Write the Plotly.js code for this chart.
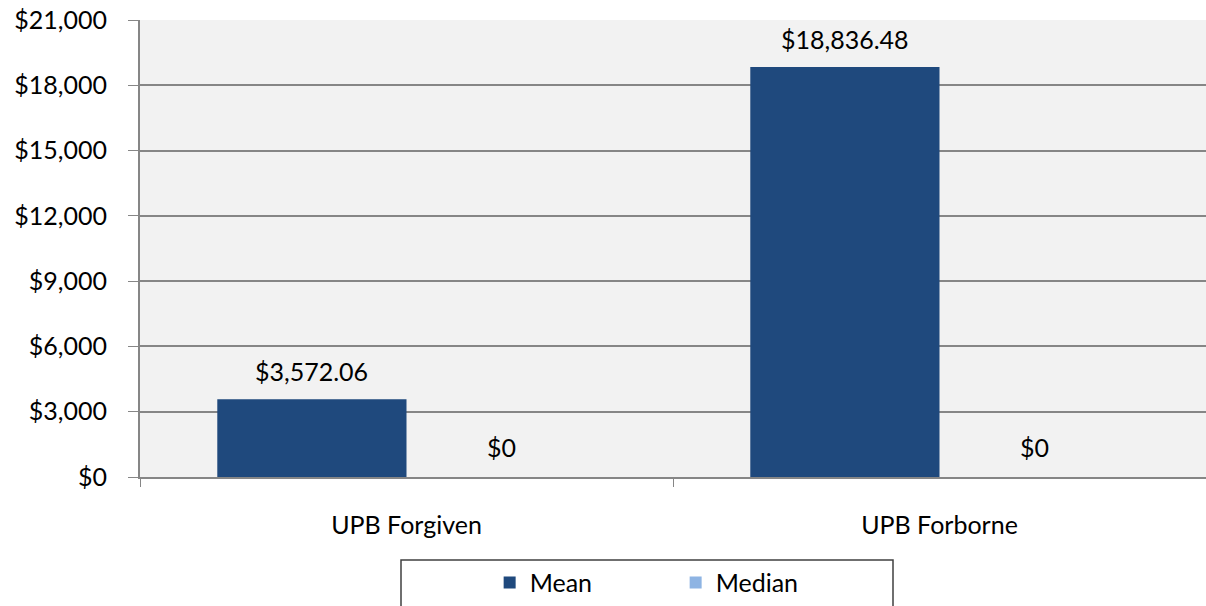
<!DOCTYPE html>
<html>
<head>
<meta charset="utf-8">
<script src="https://cdn.plot.ly/plotly-3.0.1.min.js"></script>
<style>
  body { margin: 0; background: #fff; }
  #chart { width: 1206px; height: 606px; }
</style>
</head>
<body>
<div id="chart"></div>
<script>
// categories and series values
var categories = ["UPB Forgiven", "UPB Forborne"];
var meanValues = [3572.06, 18836.48];
var medianValues = [0, 0];
var yTicks = [0, 3000, 6000, 9000, 12000, 15000, 18000, 21000];
var yTickLabels = yTicks.map(v => "$" + v.toLocaleString("en-US"));

var fontFamily = "Lato, 'Open Sans', sans-serif";
var fontSize = 25;

var trace1 = {
  x: categories,
  y: meanValues,
  name: "Mean",
  type: "bar",
  marker: { color: "#1F497D" },
  hoverinfo: "skip"
};

var trace2 = {
  x: categories,
  y: medianValues,
  name: "Median",
  type: "bar",
  marker: { color: "#8EB4E3" },
  hoverinfo: "skip"
};

var data = [trace1, trace2];

// value labels above each bar (bar half-offset inside its group)
var barShift = 1066 / 2 * (1 - 0.29) / 4;
function fmt(v, d) {
  return "$" + v.toLocaleString("en-US", { minimumFractionDigits: d, maximumFractionDigits: d });
}
var annotations = [];
categories.forEach(function (c, i) {
  annotations.push({
    x: c, y: meanValues[i], text: fmt(meanValues[i], 2),
    xshift: -barShift, yshift: 28, yanchor: "middle",
    showarrow: false, font: { size: fontSize, color: "#000" }
  });
  annotations.push({
    x: c, y: medianValues[i], text: fmt(medianValues[i], 0),
    xshift: barShift, yshift: 30, yanchor: "middle",
    showarrow: false, font: { size: fontSize, color: "#000" }
  });
});

var layout = {
  width: 1206,
  height: 606,
  font: { family: fontFamily, size: fontSize, color: "#000" },
  paper_bgcolor: "#fff",
  plot_bgcolor: "#F2F2F2",
  barmode: "group",
  bargap: 0.29,
  bargroupgap: 0,
  margin: { l: 140, r: 0, t: 20, b: 129 },
  showlegend: true,
  legend: {
    orientation: "h",
    x: 0.328,
    xanchor: "left",
    y: -0.282,
    yanchor: "bottom",
    font: { size: fontSize },
    entrywidth: 141,
    bgcolor: "rgba(0,0,0,0)"
  },
  annotations: annotations,
  xaxis: {
    type: "category",
    showline: true,
    linecolor: "#868686",
    linewidth: 2,
    ticks: "outside",
    tickson: "boundaries",
    ticklen: 8,
    tickcolor: "#868686",
    ticklabelstandoff: 25,
    showgrid: false,
    fixedrange: true
  },
  yaxis: {
    range: [0, 21000],
    tickvals: yTicks,
    ticktext: yTickLabels,
    showline: true,
    linecolor: "#868686",
    linewidth: 2,
    ticks: "outside",
    ticklen: 10,
    tickcolor: "#868686",
    ticklabelstandoff: 16,
    showgrid: true,
    gridcolor: "#868686",
    gridwidth: 2,
    zeroline: false,
    fixedrange: true
  },
  shapes: [{
    type: "rect",
    xref: "paper", yref: "paper",
    x0: (401 - 140) / 1066, x1: (893 - 140) / 1066,
    y0: -0.35, y1: -(560 - 477) / 457,
    line: { color: "#404040", width: 1.5 },
    fillcolor: "rgba(0,0,0,0)"
  }]
};

Plotly.newPlot("chart", data, layout, { displayModeBar: false, staticPlot: true });
</script>
</body>
</html>
